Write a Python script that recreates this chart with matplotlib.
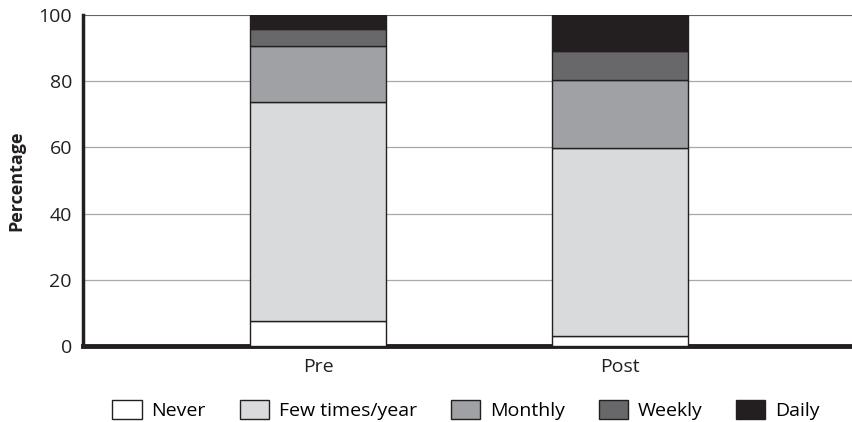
import matplotlib
matplotlib.use("Agg")
import matplotlib.pyplot as plt
from matplotlib.patches import Patch
import numpy as np

plt.rcParams['font.family'] = ['Open Sans', 'DejaVu Sans']

categories = ["Pre", "Post"]
series_names = ["Never", "Few times/year", "Monthly", "Weekly", "Daily"]
never = [7.7, 3.1]
few = [66.0, 56.7]
monthly = [16.9, 20.7]
weekly = [5.3, 8.5]
daily = [4.1, 11.0]
yticks = [0, 20, 40, 60, 80, 100]

values = [never, few, monthly, weekly, daily]
colors = ["#ffffff", "#d9dadc", "#a0a1a4", "#68686a", "#231f20"]
edge = "#231f20"

fig = plt.figure(figsize=(8.52, 4.22), dpi=100)
ax = fig.add_axes([83/852, 1-346/422, 1-83/852, (346-15)/422])

x = np.arange(len(categories))
bottom = np.zeros(len(categories))
for vals, c in zip(values, colors):
    ax.bar(x, vals, bottom=bottom, width=0.45, color=c, edgecolor=edge, linewidth=1.0, zorder=3)
    bottom += np.array(vals)

ax.set_xlim(-0.778, 1.768)
ax.set_ylim(0, 100)
ax.set_yticks(yticks)
ax.set_xticks(x)
ax.set_xticklabels(categories, fontsize=14, color="#231f20")
ax.tick_params(axis='both', length=0, labelsize=14, colors="#231f20", pad=8)
ax.tick_params(axis='x', pad=9)
ax.yaxis.grid(True, color="#a8a8a8", linewidth=0.9, zorder=0)
ax.set_axisbelow(True)
for s in ["top", "right"]:
    ax.spines[s].set_visible(False)
ax.spines["left"].set_linewidth(2.5)
ax.spines["bottom"].set_linewidth(3.5)
ax.spines["left"].set_color("#231f20")
ax.spines["bottom"].set_color("#231f20")
ax.axhline(100, color="#555555", linewidth=1.2, zorder=1)
ax.set_ylabel("Percentage", fontsize=13, fontweight="bold", color="#231f20", labelpad=9)

handles = [Patch(facecolor=c, edgecolor=edge, linewidth=1.0) for c in colors]
fig.legend(handles, series_names, loc="center", bbox_to_anchor=(466/852, 1-410/422), ncol=5,
           frameon=False, fontsize=14, handlelength=1.5, handleheight=1.1,
           columnspacing=1.75, handletextpad=0.5, borderpad=0)

fig.savefig("out.png", dpi=100)
